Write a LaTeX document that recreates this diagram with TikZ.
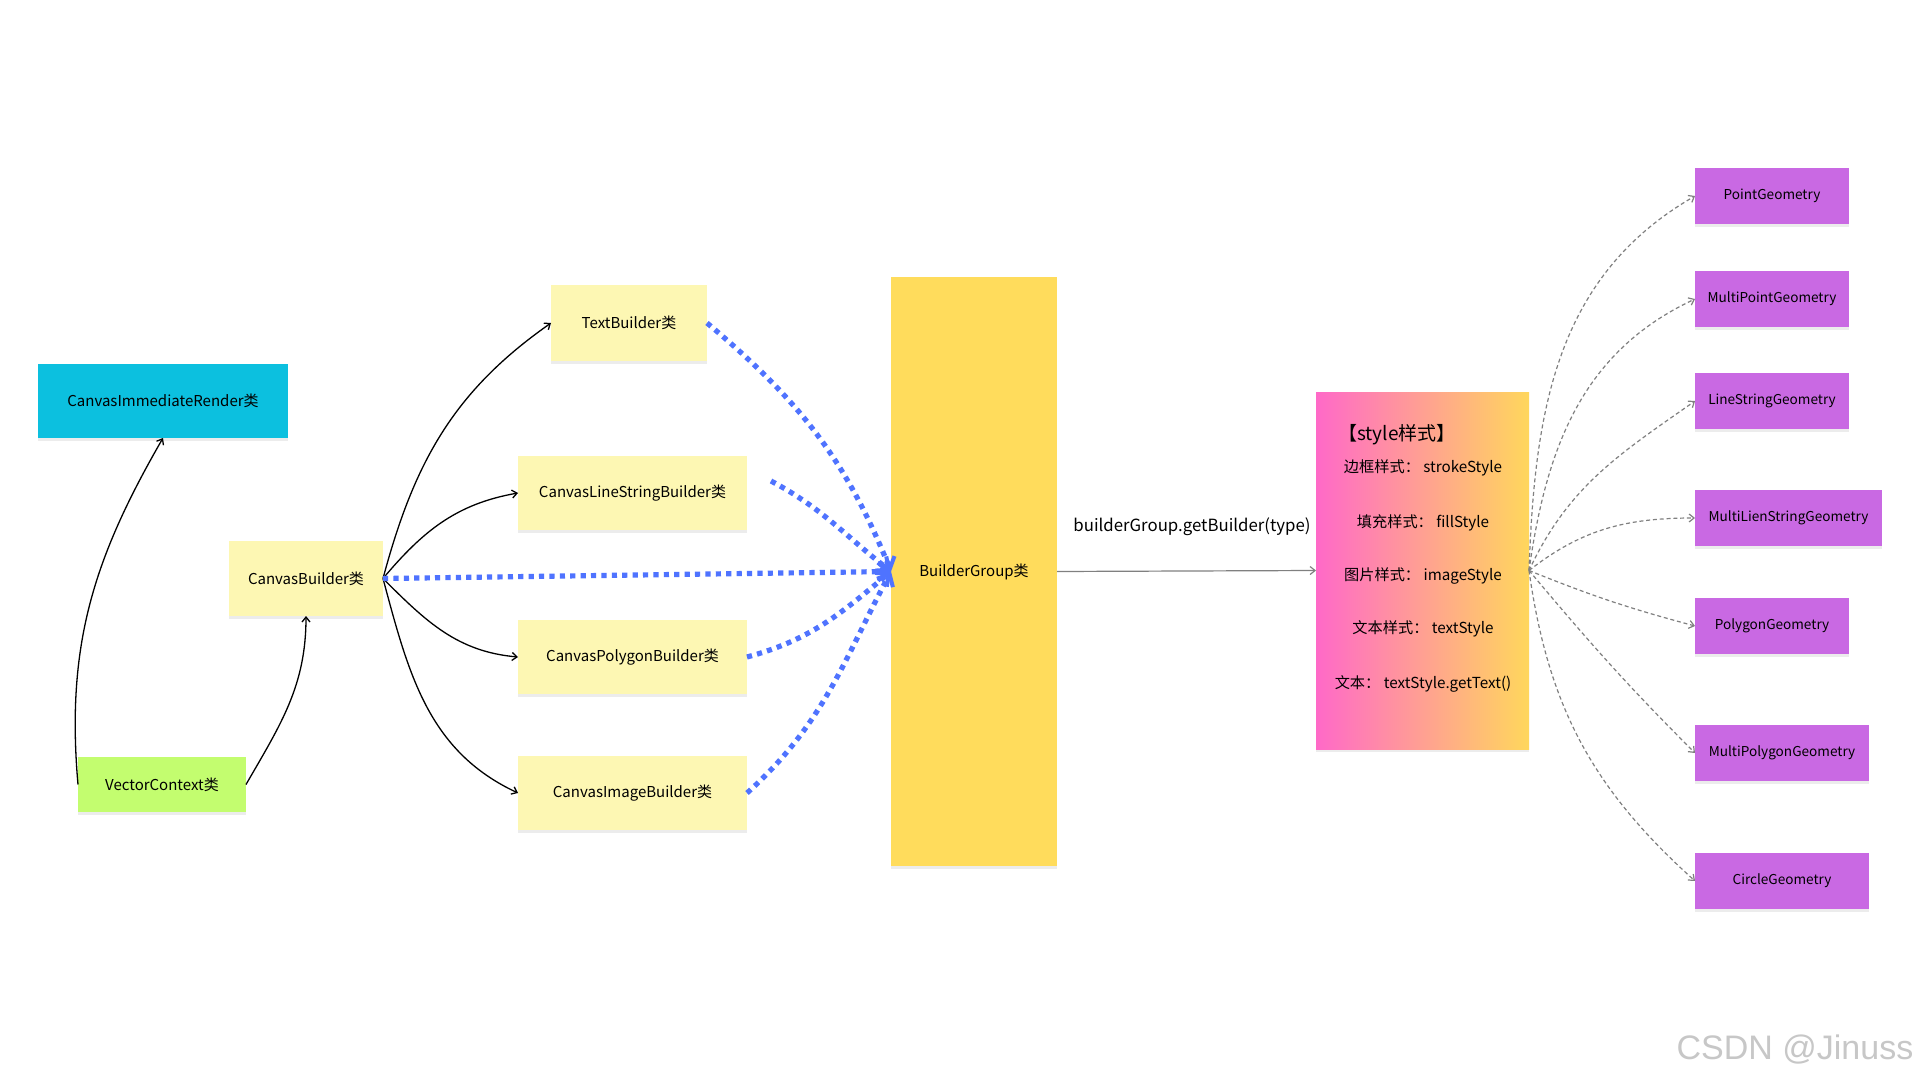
\documentclass[tikz,border=0pt]{standalone}
\usepackage{fontspec}
\setmainfont{Noto Sans CJK SC}
\newfontfamily\wmfont{Liberation Sans}
\usetikzlibrary{arrows.meta,shadows}
\definecolor{cyanbox}{HTML}{0CC0DF}
\definecolor{notebox}{HTML}{FDF7B3}
\definecolor{greenbox}{HTML}{C3FD6F}
\definecolor{groupbox}{HTML}{FFDC5C}
\definecolor{geobox}{HTML}{C969E3}
\definecolor{pinkL}{HTML}{FF69C8}
\definecolor{yellowR}{HTML}{FFD75C}
\definecolor{dotblue}{HTML}{4F73FF}
\definecolor{geoline}{HTML}{808080}
\begin{document}
\begin{tikzpicture}[x=0.5pt,y=-0.5pt,
  sz/.style 2 args={minimum width=#1*0.5pt, minimum height=#2*0.5pt},
  card/.style={inner sep=0pt, outer sep=0pt,
    drop shadow={shadow xshift=0pt, shadow yshift=-1.5pt, fill=black!12, opacity=0.6}},
  cls/.style={card, font=\fontsize{7.5pt}{9pt}\selectfont},
  geo/.style={card, fill=geobox, font=\fontsize{6.8pt}{8pt}\selectfont},
  solidarrow/.style={draw=black, line width=0.65pt, -{Straight Barb[length=2.5pt,width=4pt]}},
  bluedots/.style={draw=dotblue, line width=2.6pt, dash pattern=on 2.6pt off 2.6pt,
    -{Straight Barb[length=5pt,width=9pt,line width=2pt]}},
  geoarrow/.style={draw=geoline, line width=0.6pt, dash pattern=on 2pt off 1.4pt,
    -{Straight Barb[length=2.5pt,width=4pt]}},
  stline/.style={font=\fontsize{7.6pt}{9pt}\selectfont}
]
\useasboundingbox (0,0) rectangle (1920,1080);
\fill[white] (0,0) rectangle (1920,1080);

% left nodes
\node[cls, fill=cyanbox, sz={250}{74}] (cir) at (163,401) {CanvasImmediateRender类};
\node[cls, fill=notebox, sz={154}{75}] (cb) at (306,578.5) {CanvasBuilder类};
\node[cls, fill=greenbox, sz={168}{55}] (vc) at (162,784.5) {VectorContext类};

% builders
\node[cls, fill=notebox, sz={156}{76}] (tb) at (629,323) {TextBuilder类};
\node[cls, fill=notebox, sz={229}{74}] (ls) at (632.5,493) {CanvasLineStringBuilder类};
\node[cls, fill=notebox, sz={229}{74}] (pg) at (632.5,657) {CanvasPolygonBuilder类};
\node[cls, fill=notebox, sz={229}{74}] (ib) at (632.5,793) {CanvasImageBuilder类};

% builder group
\node[cls, fill=groupbox, sz={166}{589}] (bg) at (974,571.5) {BuilderGroup类};

% style box
\node[card, left color=pinkL, right color=yellowR, sz={213}{357}] (st) at (1422.5,570.5) {};
\node[anchor=west, font=\fontsize{9.5pt}{11pt}\selectfont] (sttitle) at (1331,435) {【style样式】};
\node[stline] (s1) at (1423,468) {边框样式： strokeStyle};
\node[stline] (s2) at (1423,523) {填充样式： fillStyle};
\node[stline] (s3) at (1423,576) {图片样式： imageStyle};
\node[stline] (s4) at (1423,629) {文本样式： textStyle};
\node[stline] (s5) at (1423,684) {文本： textStyle.getText()};

% geometry nodes
\node[geo, sz={154}{56}] (ptg) at (1772,196) {PointGeometry};
\node[geo, sz={154}{56}] (mpt) at (1772,299) {MultiPointGeometry};
\node[geo, sz={154}{56}] (lsg) at (1772,401) {LineStringGeometry};
\node[geo, sz={187}{56}] (mls) at (1788.5,518) {MultiLienStringGeometry};
\node[geo, sz={154}{56}] (pgg) at (1772,626) {PolygonGeometry};
\node[geo, sz={174}{56}] (mpg) at (1782,753) {MultiPolygonGeometry};
\node[geo, sz={174}{56}] (cg) at (1782,881) {CircleGeometry};

% black connectors
\draw[solidarrow] (vc.west) to[out=95, in=-120] (cir.south);
\draw[solidarrow] (vc.east) to[out=60, in=-90] (cb.south);
\draw[solidarrow] (cb.east) to[out=75, in=-145] (tb.west);
\draw[solidarrow] (cb.east) to[out=50, in=190] (ls.west);
\draw[solidarrow] (cb.east) to[out=-45, in=175] (pg.west);
\draw[solidarrow] (cb.east) to[out=-75, in=155] (ib.west);

% blue dotted connectors
\draw[bluedots] (tb.east) to[out=-40, in=112] (bg.west);
\draw[bluedots] ([xshift=12pt,yshift=6pt]ls.east) to[out=-28, in=142] (bg.west);
\draw[bluedots] (cb.east) -- (bg.west);
\draw[bluedots] (pg.east) to[out=15, in=-140] (bg.west);
\draw[bluedots] (ib.east) to[out=42, in=-118] (bg.west);

% builder group -> style
\draw[draw=geoline, line width=0.6pt, -{Straight Barb[length=2.5pt,width=4pt]}] (bg.east) -- (st.west);
\node[font=\fontsize{8.4pt}{10pt}\selectfont] (lbl) at (1192,527) {builderGroup.getBuilder(type)};

% style -> geometries
\draw[geoarrow] (st.east) to[out=88, in=-150] (ptg.west);
\draw[geoarrow] (st.east) to[out=82, in=-155] (mpt.west);
\draw[geoarrow] (st.east) to[out=65, in=-145] (lsg.west);
\draw[geoarrow] (st.east) to[out=38, in=180] (mls.west);
\draw[geoarrow] (st.east) to[out=-22, in=165] (pgg.west);
\draw[geoarrow] (st.east) to[out=-50, in=135] (mpg.west);
\draw[geoarrow] (st.east) to[out=-82, in=138] (cg.west);

% watermark
\node[text=black!22, font=\wmfont\fontsize{17pt}{20pt}\selectfont] (wm) at (1795,1050) {CSDN @Jinuss};
\end{tikzpicture}
\end{document}
